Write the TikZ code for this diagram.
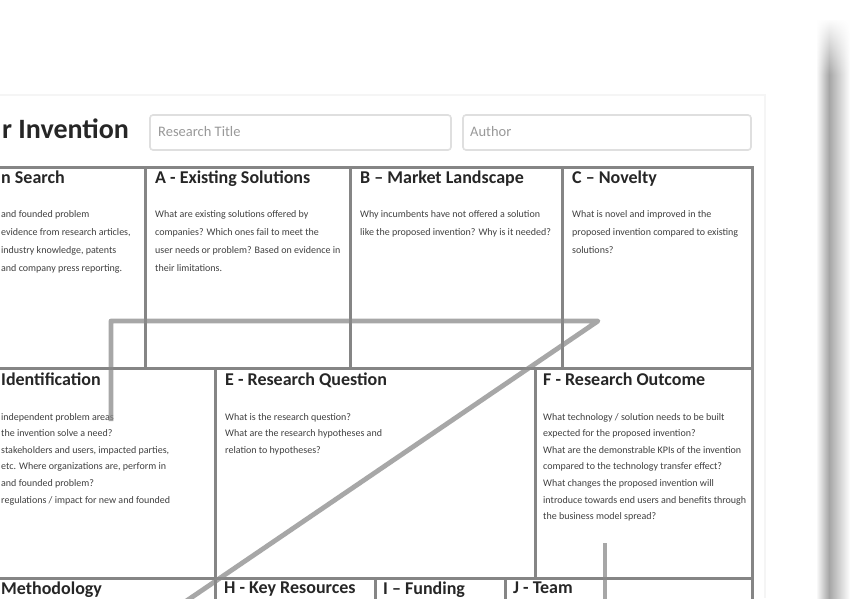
\documentclass[tikz,border=0pt]{standalone}
\usepackage{fontspec}
\setmainfont{Carlito}
\usepackage{xcolor}
\usepackage{tikz}
\usetikzlibrary{calc,fadings}
\definecolor{gridgray}{HTML}{858585}
\definecolor{pengray}{HTML}{8A8A8A}
\definecolor{headgray}{HTML}{262626}
\definecolor{bodygray}{HTML}{404040}
\tikzset{grid line/.style={draw=gridgray,line width=3pt},
  pen/.style={draw=pengray,line width=4.8pt,opacity=0.75,line join=round},
  field box/.style={draw=gray!25,line width=1.6pt,rounded corners=3pt},
  field label/.style={font=\fontsize{14.5}{16}\selectfont,text=gray!80,inner sep=0pt,anchor=west},
  cell head/.style={font=\fontsize{18}{20}\selectfont\bfseries,text=headgray,inner sep=0pt,anchor=north west},
  cell text/.style={font=\fontsize{10}{18}\selectfont,text=bodygray,inner sep=0pt,align=left,anchor=north west},
  tight text/.style={cell text,font=\fontsize{10}{16.6}\selectfont}}

\begin{document}
\begin{tikzpicture}[x=1pt,y=-1pt]
				\useasboundingbox (0,0) rectangle (868,598);
				\clip (0,0) rectangle (868,598);
				\fill[white] (0,0) rectangle (868,598);
				% page edge and shadow
				\draw[gray!8,line width=1.5pt] (0,95) -- (765,95) -- (765,598);
				\shade[left color=white,right color=gray!70] (816,20) rectangle (829,598);
				\shade[left color=gray!70,right color=white] (829,20) rectangle (850,598);
				\fill[white,path fading=south] (810,18) rectangle (855,75);
				% title and fields
				\node[font=\fontsize{28}{32}\selectfont\bfseries,text=headgray,inner sep=0pt,anchor=west] (title) at (2,129) {r Invention};
				\draw[field box] (150,115) rectangle (451,150);
				\node[field label] (rtitle) at (158,132) {Research Title};
				\draw[field box] (463,115) rectangle (751,150);
				\node[field label] (author) at (470,132) {Author};
				% grid
				\draw[grid line] (-5,167) -- (752,167) -- (752,605);
				\draw[grid line] (-5,368) -- (752,368);
				\draw[grid line] (-5,578) -- (752,578);
				\foreach \x in {145,350,562} \draw[grid line] (\x,167) -- (\x,368);
				\foreach \x in {215,535} \draw[grid line] (\x,368) -- (\x,578);
				\foreach \x in {215,375,505} \draw[grid line] (\x,578) -- (\x,605);
				% row 1
				\node[cell head] (hS) at (1,171) {n Search};
				\node[cell text] (tS) at (1,210) {and founded problem\\
					evidence from research articles,\\
					industry knowledge, patents\\
					and company press reporting.};
				\node[cell head] (hA) at (155,171) {A - Existing Solutions};
				\node[cell text] (tA) at (155,210) {What are existing solutions offered by\\
					companies? Which ones fail to meet the\\
					user needs or problem? Based on evidence in\\
					their limitations.};
				\node[cell head] (hB) at (360,171) {B – Market Landscape};
				\node[cell text] (tB) at (360,210) {Why incumbents have not offered a solution\\
					like the proposed invention? Why is it needed?};
				\node[cell head] (hC) at (572,171) {C – Novelty};
				\node[cell text] (tC) at (572,210) {What is novel and improved in the\\
					proposed invention compared to existing\\
					solutions?};
				% row 2
				\node[cell head] (hD) at (1,373) {Identification};
				\node[tight text] (tD) at (1,413) {independent problem areas\\
					the invention solve a need?\\
					stakeholders and users, impacted parties,\\
					etc. Where organizations are, perform in\\
					and founded problem?\\
					regulations / impact for new and founded};
				\node[cell head] (hE) at (225,373) {E - Research Question};
				\node[tight text] (tE) at (225,413) {What is the research question?\\
					What are the research hypotheses and\\
					relation to hypotheses?};
				\node[cell head] (hF) at (543,373) {F - Research Outcome};
				\node[tight text] (tF) at (543,413) {What technology / solution needs to be built\\
					expected for the proposed invention?\\
					What are the demonstrable KPIs of the invention\\
					compared to the technology transfer effect?\\
					What changes the proposed invention will\\
					introduce towards end users and benefits through\\
					the business model spread?};
				% row 3
				\node[cell head] (hG) at (1,582) {Methodology};
				\node[cell head] (hH) at (224,582) {H - Key Resources};
				\node[cell head] (hI) at (383,582) {I – Funding};
				\node[cell head] (hJ) at (513,582) {J - Team};
				% pen strokes
				\coordinate (z1) at (111,421);
				\coordinate (z2) at (111,321);
				\coordinate (z3) at (598,321);
				\coordinate (z4) at (176,608);
				\coordinate (z5) at (605,543);
				\coordinate (z6) at (605,610);
				\draw[pen] (z1) -- (z2) -- (z3) -- (z4);
				\draw[pen] (z5) -- (z6);
			\end{tikzpicture}
\end{document}
